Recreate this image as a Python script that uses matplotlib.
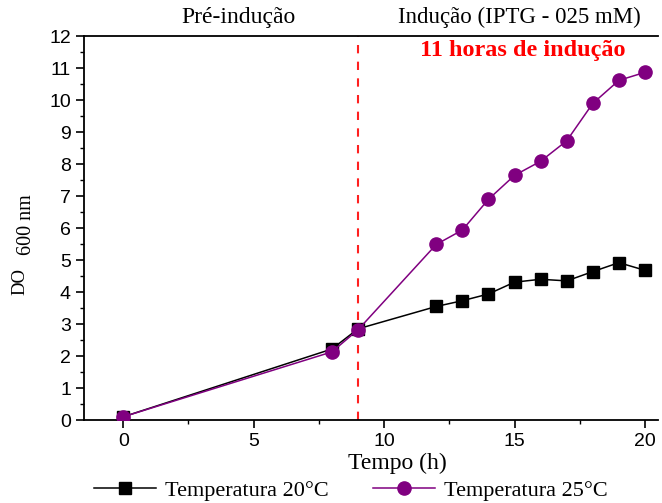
import matplotlib
matplotlib.use('Agg')
import matplotlib.pyplot as plt
from matplotlib.ticker import MultipleLocator

# Data
tempo = [0, 8, 9, 12, 13, 14, 15, 16, 17, 18, 19, 20]
do_20c = [0.10, 2.22, 2.85, 3.55, 3.73, 3.94, 4.31, 4.40, 4.35, 4.64, 4.92, 4.68]
do_25c = [0.10, 2.13, 2.82, 5.49, 5.94, 6.90, 7.65, 8.09, 8.73, 9.90, 10.62, 10.87]
inducao_t = 9

serif = 'Liberation Serif'
sans = 'Liberation Sans'

fig = plt.figure(figsize=(6.62, 5.03), dpi=100)
ax = fig.add_axes([0.127, 0.165, 0.867, 0.763])

ax.plot(tempo, do_20c, color='black', lw=1.1, marker='s', ms=8.5,
        label='Temperatura 20°C', zorder=3)
ax.plot(tempo, do_25c, color='#800080', lw=1.1, marker='o', ms=9.5,
        label='Temperatura 25°C', zorder=4)
ax.axvline(inducao_t, color='#ff2020', ls=(0, (4, 4)), lw=1.5, zorder=2)

ax.set_xlim(-1.5, 20.5)
ax.set_ylim(0, 12)
ax.xaxis.set_major_locator(MultipleLocator(5))
ax.xaxis.set_minor_locator(MultipleLocator(2.5))
ax.yaxis.set_major_locator(MultipleLocator(1))
ax.yaxis.set_minor_locator(MultipleLocator(0.5))
ax.tick_params(which='major', direction='out', length=6, width=1.2, labelsize=14)
ax.tick_params(which='minor', direction='out', length=3, width=1)
for lbl in ax.get_xticklabels() + ax.get_yticklabels():
    lbl.set_fontfamily(sans)

ax.spines['right'].set_visible(False)
for s in ['left', 'bottom', 'top']:
    ax.spines[s].set_linewidth(1.3)

ax.set_xlabel('Tempo (h)', fontfamily=serif, fontsize=17)
ax.xaxis.set_label_coords(0.545, -0.085)

# y label: "DO" with a lowered "600 nm"
fig.text(0.030, 0.441, 'DO', fontfamily=serif, fontsize=13.5,
         rotation=90, ha='center', va='center')
fig.text(0.0395, 0.553, '600 nm', fontfamily=serif, fontsize=14.5,
         rotation=90, ha='center', va='center')

ax.text(4.4, 12.25, 'Pré-indução', fontfamily=serif, fontsize=17,
        ha='center', va='bottom')
ax.text(15.2, 12.25, 'Indução (IPTG - 025 mM)', fontfamily=serif, fontsize=16.5,
        ha='center', va='bottom')
ax.text(15.3, 11.55, '11 horas de indução', fontfamily=serif, fontsize=17.5,
        fontweight='bold', color='#ff0000', ha='center', va='center')

leg = fig.legend(loc='lower center', bbox_to_anchor=(0.530, -0.035), ncol=2,
                 frameon=False, prop={'family': serif, 'size': 16},
                 handlelength=2.8, columnspacing=2.0, handletextpad=0.4)

fig.savefig('out.png', dpi=100)
